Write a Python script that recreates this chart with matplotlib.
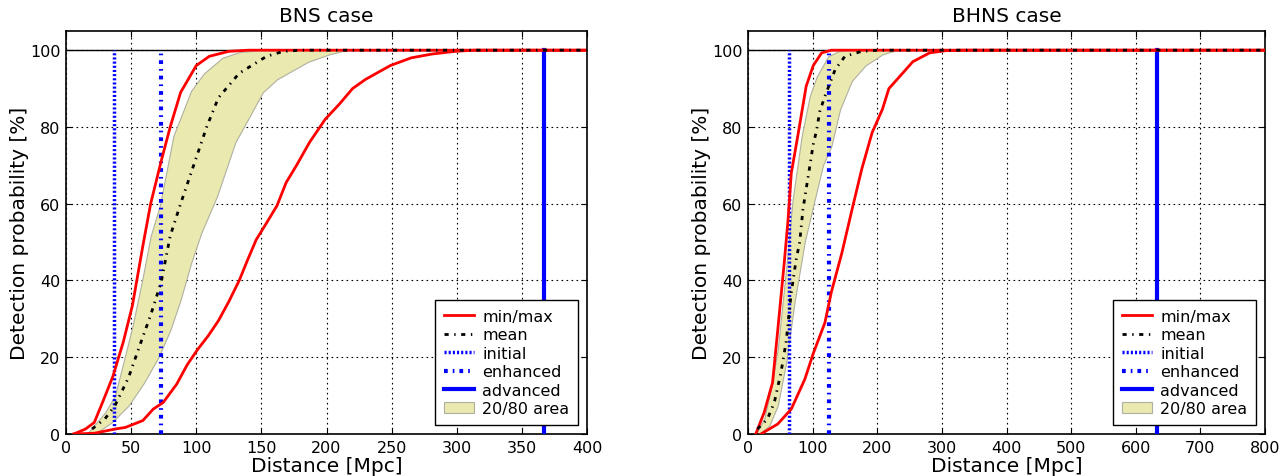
import matplotlib
matplotlib.use("Agg")
import matplotlib.pyplot as plt
import numpy as np

# ---------------- BNS data ----------------
bns_max_x = [6, 15, 21.7, 28, 36, 44, 51, 59, 65, 73, 80, 88, 100, 110, 125, 140, 400]
bns_max_y = [0, 1.3, 3, 8.2, 15, 24, 33.5, 49, 60, 71, 80, 89, 96, 98.4, 99.7, 100, 100]

bns_mean_x = [20, 30, 37.6, 48, 57, 65, 73, 80, 88, 100, 108, 117, 133, 154, 167, 180, 400]
bns_mean_y = [1.3, 4, 7.4, 14.7, 23.4, 31, 39.5, 51.6, 60, 72, 80, 87.6, 94, 98.4, 99.7, 100, 100]

bns_hi_x = [16, 30, 37.6, 51, 59, 65, 72, 82.5, 96, 106, 120, 133, 149, 400]
bns_hi_y = [0, 5.6, 10, 28, 41, 51.6, 59.5, 77.7, 89.4, 94, 98, 99.5, 100, 100]

bns_lo_x = [22, 35, 48, 60, 71, 80, 88, 96, 104, 116, 130, 143, 151, 162, 186, 202, 215, 400]
bns_lo_y = [0, 3, 7.4, 13.4, 20, 27, 35, 44.5, 52.5, 62, 76, 84, 89, 92.4, 97, 98.9, 100, 100]

bns_min_x = [6, 22, 37.6, 45.5, 59, 67, 74.6, 85, 93, 101, 109, 117, 125, 133, 139.6, 146, 154,
             162, 169, 177, 187, 199, 210, 220, 230, 249, 265, 281, 299, 313, 400]
bns_min_y = [0, 0.2, 1.3, 1.7, 3.5, 6.5, 8.2, 13, 18, 22, 25.5, 29.5, 34.5, 40, 45.5, 50.6, 55,
             59.5, 65.5, 70, 76, 82, 86, 90, 92.4, 96, 98, 99, 99.7, 100, 100]

bns_initial, bns_enhanced, bns_advanced = 36.5, 73, 367

# ---------------- BHNS data ----------------
bhns_max_x = [12, 25, 38, 46, 56, 61.6, 67, 77, 90, 101, 114, 129, 800]
bhns_max_y = [0, 5.6, 13.4, 27, 44.5, 55, 68, 77.6, 90.6, 96, 99.3, 100, 100]

bhns_mean_x = [14.6, 30, 40.7, 51, 59, 67, 74.6, 80, 85, 93, 101, 106, 111, 119, 135, 150, 176, 202, 800]
bhns_mean_y = [1.3, 3.9, 8.2, 16, 24, 36.9, 45.5, 50, 58.5, 67, 75.5, 79, 84, 88, 95, 98.4, 99.7, 100, 100]

bhns_hi_x = [12, 25, 35.5, 46, 59, 69, 83, 95.5, 106, 124, 140, 155, 800]
bhns_hi_y = [0, 3.9, 11.7, 22, 43, 61, 77.6, 88, 93, 98.4, 99.7, 100, 100]

bhns_lo_x = [17, 33, 46, 59, 72, 87.7, 101, 116, 129, 142.5, 160.7, 181.6, 208, 223, 244, 800]
bhns_lo_y = [0, 2.2, 7.4, 18.6, 34.3, 50, 59.5, 70, 75, 84.6, 92, 96, 98.9, 99.7, 100, 100]

bhns_min_x = [20, 46, 67, 88, 101, 119, 129, 145, 161, 176, 192, 208, 218, 234, 255, 281, 307, 333, 800]
bhns_min_y = [0, 2.6, 6.5, 14.3, 21, 29, 37, 47, 58.5, 69, 78.5, 84.6, 90, 93, 97, 99.3, 99.9, 100, 100]

bhns_initial, bhns_enhanced, bhns_advanced = 63, 126, 633

titles = ["BNS case", "BHNS case"]
xlims = [400, 800]
yticks = [0, 20, 40, 60, 80, 100]

plt.rcParams.update({
    "font.family": "DejaVu Sans",
    "xtick.direction": "in",
    "ytick.direction": "in",
    "xtick.top": True,
    "ytick.right": True,
    "xtick.major.size": 4,
    "ytick.major.size": 4,
    "xtick.major.pad": 4,
    "ytick.major.pad": 4,
    "xtick.labelsize": 11.5,
    "ytick.labelsize": 11.5,
})

fig = plt.figure(figsize=(12.87, 4.77), dpi=100)
ax1 = fig.add_axes([66/1287, 42/477, 521/1287, 403/477])
ax2 = fig.add_axes([748/1287, 42/477, 517/1287, 403/477])

datasets = [
    (bns_max_x, bns_max_y, bns_min_x, bns_min_y, bns_mean_x, bns_mean_y,
     bns_hi_x, bns_hi_y, bns_lo_x, bns_lo_y, bns_initial, bns_enhanced, bns_advanced),
    (bhns_max_x, bhns_max_y, bhns_min_x, bhns_min_y, bhns_mean_x, bhns_mean_y,
     bhns_hi_x, bhns_hi_y, bhns_lo_x, bhns_lo_y, bhns_initial, bhns_enhanced, bhns_advanced),
]

for ax, d, title, xmax in zip([ax1, ax2], datasets, titles, xlims):
    (mx_x, mx_y, mn_x, mn_y, me_x, me_y, hi_x, hi_y, lo_x, lo_y, ini, enh, adv) = d
    grid = np.union1d(hi_x, lo_x)
    hi_i = np.interp(grid, hi_x, hi_y, left=0)
    lo_i = np.interp(grid, lo_x, lo_y, left=0)
    ax.axhline(100, color="k", lw=1.0, zorder=1)
    ax.fill_between(grid, lo_i, hi_i, facecolor="#e9e9b0", edgecolor="#b0b0a0",
                    lw=0.8, zorder=2, label="20/80 area")
    ax.plot(mx_x, mx_y, color="red", lw=2, zorder=4, label="min/max")
    ax.plot(mn_x, mn_y, color="red", lw=2, zorder=4)
    ax.plot(me_x, me_y, color="black", lw=2, dashes=(1.5, 2, 0.5, 2), zorder=5, label="mean")
    ax.plot([ini, ini], [0, 100], color="blue", lw=2.5, dashes=(0.6, 0.6), zorder=3, label="initial")
    ax.plot([enh, enh], [0, 100], color="blue", lw=3, dashes=(0.9, 1.2, 0.4, 1.2), zorder=3, label="enhanced")
    ax.plot([adv, adv], [0, 100], color="blue", lw=3, zorder=3, label="advanced")
    ax.set_xlim(0, xmax)
    ax.set_ylim(0, 105)
    ax.set_yticks(yticks)
    ax.grid(True, color="black", linestyle=(0, (1.5, 3)), lw=0.8)
    ax.set_axisbelow(True)
    ax.set_title(title, fontsize=14.5, pad=7)
    ax.set_xlabel("Distance [Mpc]", fontsize=14.5, labelpad=1)
    ax.set_ylabel("Detection probability [%]", fontsize=14.5, labelpad=0.5)
    for s in ax.spines.values():
        s.set_linewidth(1.2)
    handles, labels = ax.get_legend_handles_labels()
    order = ["min/max", "mean", "initial", "enhanced", "advanced", "20/80 area"]
    hmap = dict(zip(labels, handles))
    leg = ax.legend([hmap[o] for o in order], order, loc="lower right", fontsize=11.5,
                    fancybox=False, framealpha=1, edgecolor="black",
                    borderaxespad=0.55, borderpad=0.55, handlelength=1.9,
                    handletextpad=0.5, labelspacing=0.22)
    leg.get_frame().set_linewidth(1.0)

fig.savefig("out.png", dpi=100)
